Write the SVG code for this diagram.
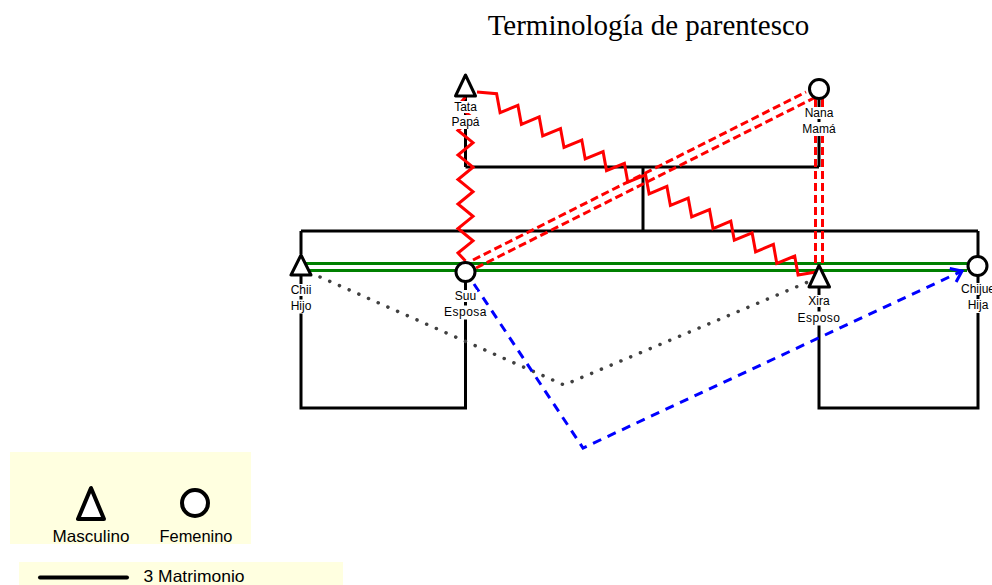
<svg xmlns="http://www.w3.org/2000/svg" width="992" height="585" viewBox="0 0 992 585">
<style>
.blk{fill:none;stroke:#000;stroke-width:3}
.grn{fill:none;stroke:#008000;stroke-width:3}
.zig{fill:none;stroke:#ff0000;stroke-width:3;stroke-linejoin:miter}
.rdash{fill:none;stroke:#ff0000;stroke-width:3;stroke-dasharray:8 4}
.dot{fill:none;stroke:#404040;stroke-width:3.5;stroke-linecap:round;stroke-dasharray:0.1 10.5}
.blue{fill:none;stroke:#0000ff;stroke-width:3;stroke-dasharray:9 7}
.node{fill:#fff;stroke:#000;stroke-width:3;stroke-linejoin:round}
.lbl{font-family:"Liberation Sans",Arial,sans-serif;font-size:12px;fill:#000;text-anchor:middle}
.bg{fill:#fff}
.leg{font-family:"Liberation Sans",Arial,sans-serif;font-size:16.5px;fill:#000}
</style>
<defs>
<marker id="chev" markerUnits="userSpaceOnUse" markerWidth="20" markerHeight="20" refX="0" refY="0" viewBox="-14 -10 16 20" orient="auto">
<path d="M-10,-7.5 L0,0 L-10,7.5" fill="none" stroke="#0000ff" stroke-width="3"/>
</marker>
</defs>
<rect width="992" height="585" fill="#fff"/>
<text x="648.5" y="35" font-family="Liberation Serif,'Times New Roman',serif" font-size="29" text-anchor="middle">Terminología de parentesco</text>

<g id="connectors">
<!-- descent lines -->
<path class="blk" d="M465.5,97 V167 M819,99 V167 M465.5,167 H819 M643,167 V231 M301,231 H978 M301,231 V254 M978,231 V257"/>
<!-- marriages -->
<path class="blk" d="M301,276 V408 H465.5 V282"/>
<path class="blk" d="M819,288 V408 H978 V276"/>
<!-- green -->
<path class="grn" d="M306,263.5 H967 M306,270.5 H967"/>
<!-- dotted -->
<path class="dot" d="M320,277 L564,385 L808,282"/>
<!-- red dashed -->
<path class="rdash" d="M473,260 L806,92 M476,268 L814,98"/>
<path class="rdash" d="M815.5,99 V264 M822.5,99 V264"/>
<!-- zigzags -->
<path class="zig" d="M465.5,97 L458,105.9 L473,118.2 L458,130.4 L473,142.7 L458,155 L473,167.2 L458,179.5 L473,191.7 L458,204 L473,216.3 L458,228.5 L473,240.8 L458,253 L465.5,261"/>
<path class="zig" d="M477,92 L496.6,93.7 L500.1,112.7 L517.9,105.3 L521.4,124.3 L539.2,116.9 L542.7,135.9 L560.5,128.5 L564,147.4 L581.8,140.1 L585.2,159 L603.1,151.7 L606.5,170.6 L624.4,163.3 L627.8,182.2 L645.6,174.8 L649.1,193.8 L666.9,186.4 L670.4,205.4 L688.2,198 L691.7,217 L709.5,209.6 L713,228.6 L730.8,221.2 L734.3,240.2 L752.1,232.8 L755.6,251.8 L773.4,244.4 L776.8,263.4 L794.7,256 L798.1,275 L816,272"/>
<!-- blue -->
<path class="blue" d="M474,284 L583,448 L962,271" marker-end="url(#chev)"/>
</g>

<g id="tata">
<polygon class="node" points="465.5,75 455.5,96 475.5,96"/>
<rect class="bg" x="452" y="101" width="27" height="12"/>
<text class="lbl" x="465.5" y="111">Tata</text>
<rect class="bg" x="450" y="115" width="31" height="14"/>
<text class="lbl" x="465.5" y="126">Papá</text>
</g>
<g id="nana">
<circle class="node" cx="819" cy="89" r="9.5"/>
<rect class="bg" x="804" y="107" width="30" height="12"/>
<text class="lbl" x="819" y="117">Nana</text>
<rect class="bg" x="801.5" y="122" width="35" height="14"/>
<text class="lbl" x="819" y="133">Mamá</text>
</g>
<g id="chii">
<polygon class="node" points="301,255 291,275 311,275"/>
<rect class="bg" x="290" y="284" width="22" height="12"/>
<text class="lbl" x="301" y="294">Chii</text>
<rect class="bg" x="290" y="299.5" width="22" height="14"/>
<text class="lbl" x="301" y="309.5">Hijo</text>
</g>
<g id="suu">
<circle class="node" cx="465.5" cy="272" r="9.5"/>
<rect class="bg" x="454" y="290" width="23" height="12"/>
<text class="lbl" x="465.5" y="300">Suu</text>
<rect class="bg" x="444" y="305.5" width="43" height="14"/>
<text class="lbl" x="465.5" y="315.5" letter-spacing="0.5">Esposa</text>
</g>
<g id="xira">
<polygon class="node" points="819,265.5 809,287 829.5,287"/>
<rect class="bg" x="808" y="295" width="23" height="12"/>
<text class="lbl" x="819" y="305">Xira</text>
<rect class="bg" x="797.5" y="311.5" width="43" height="14"/>
<text class="lbl" x="819" y="321.5" letter-spacing="0.5">Esposo</text>
</g>
<g id="chijue">
<circle class="node" cx="977.5" cy="266" r="9.5"/>
<rect class="bg" x="960" y="283" width="36" height="12"/>
<text class="lbl" x="978" y="293.3">Chijue</text>
<rect class="bg" x="967" y="299" width="22" height="14"/>
<text class="lbl" x="978" y="309.3">Hija</text>
</g>

<g id="legend">
<rect x="10" y="452" width="241" height="92" fill="#ffffe0"/>
<polygon points="91,488 78,519 104,519" fill="#fff" stroke="#000" stroke-width="4" stroke-linejoin="round"/>
<circle cx="195" cy="503" r="13" fill="#fff" stroke="#000" stroke-width="4"/>
<text class="leg" x="91" y="541.5" text-anchor="middle" textLength="77" lengthAdjust="spacingAndGlyphs">Masculino</text>
<text class="leg" x="196" y="541.5" text-anchor="middle" textLength="73" lengthAdjust="spacingAndGlyphs">Femenino</text>
<rect x="19" y="562" width="324" height="30" fill="#ffffe0"/>
<line x1="40" y1="577.5" x2="127" y2="577.5" stroke="#000" stroke-width="4" stroke-linecap="round"/>
<text class="leg" x="143.5" y="582" textLength="101" lengthAdjust="spacingAndGlyphs">3 Matrimonio</text>
</g>
</svg>
